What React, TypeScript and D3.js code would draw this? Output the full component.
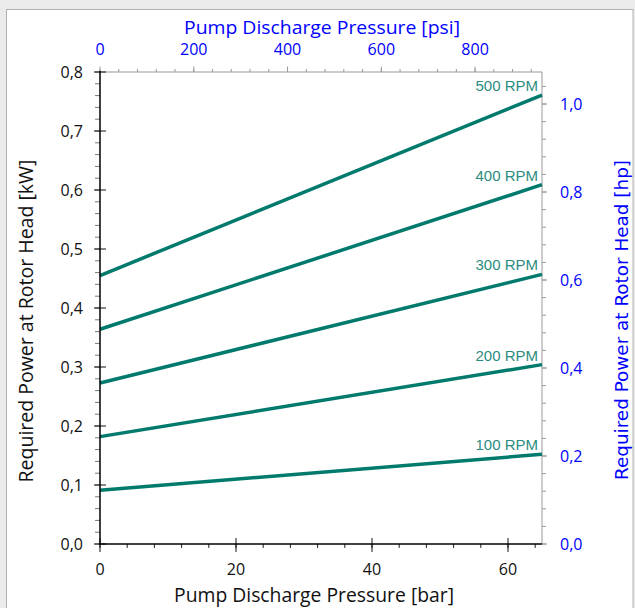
import React from "react";
import * as d3 from "d3";

const pressureBar = [0, 65];
const rpmLabels = ["100 RPM", "200 RPM", "300 RPM", "400 RPM", "500 RPM"];
const powerAtZero = [0.091, 0.182, 0.273, 0.364, 0.455];
const powerAtMax = [0.152, 0.304, 0.457, 0.609, 0.761];
const kwTicks = [0, 0.1, 0.2, 0.3, 0.4, 0.5, 0.6, 0.7, 0.8];
const barTicks = [0, 20, 40, 60];
const psiTicks = [0, 200, 400, 600, 800];
const hpTicks = [0, 0.2, 0.4, 0.6, 0.8, 1.0];

const BAR_TO_PSI = 14.5038;
const KW_PER_HP = 0.7457;

const W = 635;
const H = 608;
const L = 100, R = 542, T = 72, B = 544;
const BLUE = "#0000ff";
const TEAL = "#007a6c";
const TEAL_TXT = "#2a8c80";
const FONT = "'Open Sans', sans-serif";

const fmt = (v: number) => v.toFixed(1).replace(".", ",");

export default function App() {
  const x = d3.scaleLinear().domain([0, 65]).range([L, R]);
  const y = d3.scaleLinear().domain([0, 0.8]).range([B, T]);
  const xPsi = d3.scaleLinear().domain([0, 65 * BAR_TO_PSI]).range([L, R]);
  const yHp = d3.scaleLinear().domain([0, 0.8 / KW_PER_HP]).range([B, T]);

  const line = d3
    .line<[number, number]>()
    .x((d) => x(d[0]))
    .y((d) => y(d[1]));

  const kwMinor = d3.range(0, 0.8001, 0.02);
  const barMinor = d3.range(0, 65.001, 4);
  const psiMinor = d3.range(0, 65 * BAR_TO_PSI, 40);
  const hpMinor = d3.range(0, 0.8 / KW_PER_HP, 0.04);

  return (
    <svg
      width={W}
      height={H}
      style={{ position: "absolute", left: 0, top: 0 }}
      fontFamily={FONT}
    >
      <rect x={0} y={0} width={W} height={H} fill="#ebebeb" />
      <rect x={6.5} y={9.5} width={626.5} height={620} fill="#ffffff" stroke="#b2b2b2" />

      {/* top axis (psi) */}
      <line x1={L} x2={R} y1={T} y2={T} stroke="#999" strokeWidth={1} />
      {psiMinor.map((v) => (
        <line key={"pm" + v} x1={xPsi(v)} x2={xPsi(v)} y1={T} y2={T - 3} stroke="#999" />
      ))}
      {psiTicks.map((v) => (
        <g key={"pt" + v}>
          <line x1={xPsi(v)} x2={xPsi(v)} y1={T} y2={T - 5.5} stroke="#999" />
          <text x={xPsi(v)} y={55} textAnchor="middle" fontSize={16} fill={BLUE}>
            {v}
          </text>
        </g>
      ))}
      <text
        x={322}
        y={34}
        textAnchor="middle"
        fontSize={19}
        fill={BLUE}
        textLength={276}
        lengthAdjust="spacingAndGlyphs"
      >
        Pump Discharge Pressure [psi]
      </text>

      {/* right axis (hp) */}
      <line x1={R} x2={R} y1={T} y2={B} stroke="#999" strokeWidth={1} />
      {hpMinor.map((v, i) => (
        <line key={"hm" + i} x1={R} x2={R + 4} y1={yHp(v)} y2={yHp(v)} stroke="#999" />
      ))}
      {hpTicks.map((v) => (
        <g key={"ht" + v}>
          <line x1={R} x2={R + 5} y1={yHp(v)} y2={yHp(v)} stroke="#999" />
          <text x={560} y={yHp(v) + 6} textAnchor="start" fontSize={16} fill={BLUE}>
            {fmt(v)}
          </text>
        </g>
      ))}
      <text
        transform={`translate(628,320) rotate(-90)`}
        textAnchor="middle"
        fontSize={17}
        fill={BLUE}
        fontFamily="'DejaVu Sans', sans-serif"
        textLength={320}
        lengthAdjust="spacingAndGlyphs"
      >
        Required Power at Rotor Head [hp]
      </text>

      {/* lines */}
      {powerAtZero.map((p0, i) => {
        const pts: [number, number][] = [
          [pressureBar[0], p0],
          [pressureBar[1], powerAtMax[i]],
        ];
        return (
          <g key={"s" + i}>
            <path d={line(pts) || ""} fill="none" stroke={TEAL} strokeWidth={3.5} />
            <text
              x={538}
              y={y(powerAtMax[i]) - 4}
              textAnchor="end"
              fontSize={15}
              fill={TEAL_TXT}
              fontFamily="'Liberation Sans', Arial, sans-serif"
            >
              {rpmLabels[i]}
            </text>
          </g>
        );
      })}

      {/* left axis (kW) */}
      {kwMinor.map((v, i) => (
        <line key={"km" + i} x1={L - 5} x2={L} y1={y(v)} y2={y(v)} stroke="#777" />
      ))}
      {kwTicks.map((v) => (
        <g key={"kt" + v}>
          <line x1={L - 6} x2={L + 6} y1={y(v)} y2={y(v)} stroke="#111" />
          <text x={83} y={y(v) + 6} textAnchor="end" fontSize={16} fill="#111">
            {fmt(v)}
          </text>
        </g>
      ))}
      <line x1={L} x2={L} y1={T - 1} y2={B + 1} stroke="#000" strokeWidth={1.5} />
      <text
        transform={`translate(33,321) rotate(-90)`}
        textAnchor="middle"
        fontSize={19.5}
        fill="#111"
        textLength={323}
        lengthAdjust="spacingAndGlyphs"
      >
        Required Power at Rotor Head [kW]
      </text>

      {/* bottom axis (bar) */}
      {barMinor.map((v) => (
        <line key={"bm" + v} x1={x(v)} x2={x(v)} y1={B} y2={B + 4} stroke="#222" />
      ))}
      {barTicks.map((v) => (
        <g key={"bt" + v}>
          <line x1={x(v)} x2={x(v)} y1={B - 6} y2={B + 8} stroke="#111" />
          <text x={x(v)} y={575} textAnchor="middle" fontSize={16} fill="#111">
            {v}
          </text>
        </g>
      ))}
      <line x1={L - 1} x2={R} y1={B} y2={B} stroke="#000" strokeWidth={1.5} />
      <text
        x={314}
        y={602}
        textAnchor="middle"
        fontSize={19.5}
        fill="#111"
        textLength={280}
        lengthAdjust="spacingAndGlyphs"
      >
        Pump Discharge Pressure [bar]
      </text>
    </svg>
  );
}
